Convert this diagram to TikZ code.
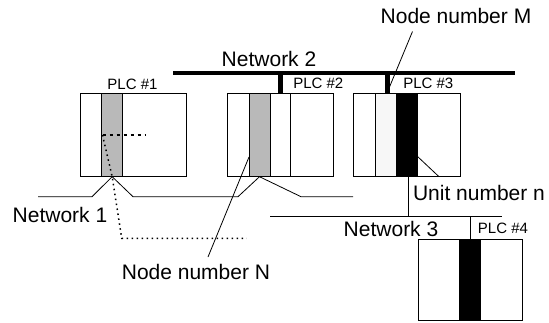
\documentclass[tikz,border=0pt]{standalone}
\usepackage{fontspec}
\setmainfont{Liberation Sans}
\begin{document}
\begin{tikzpicture}[x=1pt,y=-1pt,
  plcbox/.style={draw,line width=0.8pt,anchor=north west,minimum height=83.4pt,inner sep=0pt,outer sep=0pt},
  strip/.style={draw,line width=0.8pt,anchor=north west,minimum height=83.4pt,inner sep=0pt,outer sep=0pt},
  big/.style={font=\fontsize{21}{24}\selectfont,inner sep=0pt},
  small/.style={font=\fontsize{15}{18}\selectfont,inner sep=0pt},
  wire/.style={line width=0.8pt},
  bus/.style={line width=4.5pt},
  ptr/.style={line width=0.8pt},
  dots/.style={line width=1.5pt,dash pattern=on 1.5pt off 3.5pt},
]
\useasboundingbox (0,0) rectangle (549,322);
% PLC boxes
\node[plcbox,minimum width=105.3pt] (p1) at (80.7,93.3) {};
\node[plcbox,minimum width=106pt] (p2) at (227.3,93.3) {};
\node[plcbox,minimum width=106.7pt] (p3) at (353.3,93.3) {};
\node[plcbox,minimum width=104pt,minimum height=81.7pt] (p4) at (418.3,239) {};
% strips
\node[strip,fill=gray!55,minimum width=21pt] (s1) at (101.7,93.3) {};
\node[strip,fill=gray!55,minimum width=21pt] (s2) at (249,93.3) {};
\node[strip,fill=white,minimum width=20.4pt] (s2b) at (270,93.3) {};
\node[strip,fill=gray!6,minimum width=21pt] (s3a) at (375,93.3) {};
\node[strip,fill=black,minimum width=21.3pt] (s3) at (396,93.3) {};
\node[strip,fill=black,minimum width=21.4pt,minimum height=81.7pt] (s4) at (459.3,239) {};
% Network 2 bus
\coordinate (b1) at (173.3,73);
\coordinate (b2) at (515,73);
\draw[bus] (b1) -- (b2);
\coordinate (t2) at (280.7,73);
\coordinate (t3) at (387.5,73);
\draw[bus] (t2) -- (t2 |- p2.north);
\draw[bus] (t3) -- (t3 |- p3.north);
% Network 1
\coordinate (n1a) at (38,196.7);
\coordinate (n1b) at (353,196.7);
\draw[wire] (n1a) -- (92,196.7) -- (s1.south) -- (133,196.7) -- (238,196.7) -- (s2.south) -- (301,196.7) -- (n1b);
% dashed / dotted in PLC1
\coordinate (d0) at (102.5,135);
\draw[line width=1.2pt,dash pattern=on 3pt off 4pt] (d0) -- (145,135);
\coordinate (d1) at (121.7,238.3);
\coordinate (d2) at (246.7,238.3);
\draw[dots] (d0) -- (s1.south) -- (d1) -- (d2);
% Network 3
\coordinate (n3a) at (270,216.7);
\coordinate (n3b) at (501.7,216.7);
\draw[wire] (n3a) -- (n3b);
\coordinate (u3) at (408.5,176.7);
\draw[wire] (u3) -- (u3 |- n3a);
\coordinate (u4) at (470,216.7);
\draw[wire] (u4) -- (u4 |- p4.north);
% labels
\node[big] (net2) at (269,59) {Network 2};
\node[big] (net1) at (60,215) {Network 1};
\node[big] (net3) at (391,228.5) {Network 3};
\node[big] (nn) at (196,272) {Node number N};
\node[big] (nm) at (456,16) {Node number M};
\node[big] (un) at (479,193) {Unit number n};
\node[small] (l1) at (132.5,84) {PLC \#1};
\node[small] (l2) at (318.3,83.5) {PLC \#2};
\node[small] (l3) at (428.3,83.5) {PLC \#3};
\node[small] (l4) at (503,228.7) {PLC \#4};
% pointers
\coordinate (pn) at (208,257);
\coordinate (pn2) at (249,157);
\draw[ptr] (pn) -- (pn2);
\coordinate (pm) at (412.5,31.5);
\coordinate (pm2) at (387,93);
\draw[ptr] (pm) -- (pm2);
\coordinate (pu) at (417,156);
\coordinate (pu2) at (439,176.7);
\draw[ptr] (pu) -- (pu2);
\end{tikzpicture}
\end{document}
